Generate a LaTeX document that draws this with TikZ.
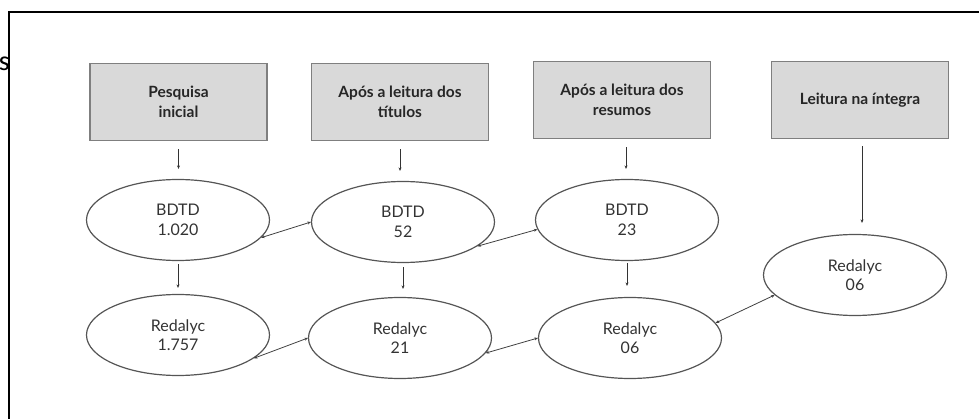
\documentclass[tikz,border=0pt]{standalone}
\usepackage{fontspec}
\setmainfont{Lato}
\newfontfamily\cutfont{Carlito}
\usetikzlibrary{shapes.geometric,arrows.meta}
\definecolor{boxfill}{HTML}{D9D9D9}
\definecolor{boxline}{HTML}{7F7F7F}
\definecolor{ellline}{HTML}{555555}
\definecolor{txt}{HTML}{333333}
\tikzset{
 stagebox/.style={draw=boxline, fill=boxfill, line width=1.2pt, minimum width=177pt, minimum height=77pt, inner sep=0pt, align=center, font=\fontsize{15.5}{20.5}\selectfont\bfseries, text=black!85},
 base/.style={draw=ellline, ellipse, line width=1.2pt, minimum width=183pt, minimum height=81pt, inner sep=0pt, align=center, font=\fontsize{16}{19.5}\selectfont, text=txt},
 arr/.style={-{Stealth[length=3.5pt,width=3pt]}, line width=0.8pt, draw=black!80},
 darr/.style={{Stealth[length=3.5pt,width=3pt]}-{Stealth[length=3.5pt,width=3pt]}, line width=0.8pt, draw=black!75},
 frame/.style={line width=1.6pt, draw=black},
}
\begin{document}
\begin{tikzpicture}[x=1pt,y=-1pt]
\useasboundingbox (0,0) rectangle (979,419);
% frame
\coordinate (fb) at (9,419);
\coordinate (fc) at (9,12);
\coordinate (fr) at (979,12);
\draw[frame] (fb) -- (fc) -- (fr);
\node[anchor=east, inner sep=0pt, font=\cutfont\fontsize{28}{30}\selectfont] (cut) at (10,64) {s};
% boxes
\node[stagebox] (b1) at (178.5,102) {Pesquisa\\inicial};
\node[stagebox] (b2) at (400,102) {Após a leitura dos\\títulos};
\node[stagebox] (b3) at (622,100) {Após a leitura dos\\resumos};
\node[stagebox] (b4) at (860,100) {Leitura na íntegra};
% ellipses
\node[base] (e1) at (178,220) {BDTD\\1.020};
\node[base] (e2) at (403,222) {BDTD\\52};
\node[base] (e3) at (627,220) {BDTD\\23};
\node[base] (e4) at (178,335) {Redalyc\\1.757};
\node[base] (e5) at (400,338) {Redalyc\\21};
\node[base] (e6) at (630,338) {Redalyc\\06};
\node[base] (e7) at (855,275) {Redalyc\\06};
% down arrows
\draw[arr] ([yshift=-8pt]b1.south) -- ([yshift=10pt]b1.south |- e1.north);
\draw[arr] ([yshift=-8pt]b2.south) -- ([yshift=10pt]b2.south |- e2.north);
\draw[arr] ([yshift=-8pt,xshift=4pt]b3.south) -- ([yshift=10pt,xshift=4pt]b3.south |- e3.north);
\draw[arr] ([yshift=-7pt,xshift=2pt]b4.south) -- ([yshift=11pt,xshift=2pt]b4.south |- e7.north);
\draw[arr] ([yshift=-3pt]e1.south) -- ([yshift=6pt]e4.north);
\draw[arr] ([yshift=-4pt]e2.south) -- ([yshift=8pt]e2.south |- e5.north);
\draw[arr] ([yshift=-2pt]e3.south) -- ([yshift=11pt]e3.south |- e6.north);
% double arrows
\draw[darr] (e1.-12) -- (e2.180);
\draw[darr] (e2.-18) -- (e3.186);
\draw[darr] (e4.-17) -- (e5.180);
\draw[darr] (e5.-10) -- (e6.180);
\draw[darr] (e6.10) -- (e7.194);
\end{tikzpicture}
\end{document}
